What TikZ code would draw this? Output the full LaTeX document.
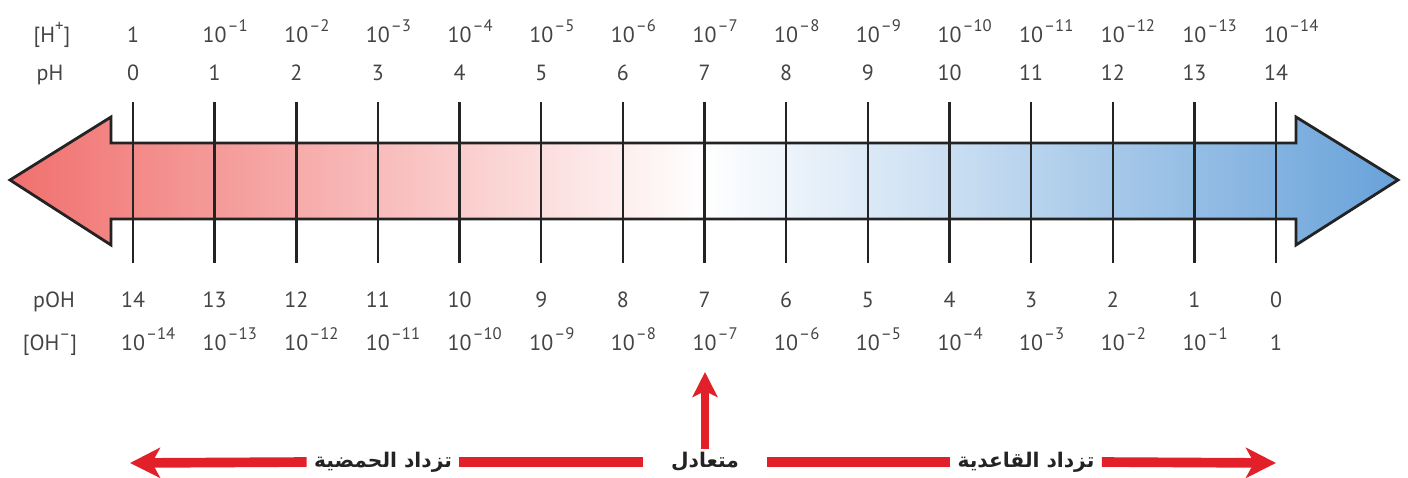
\documentclass[tikz,border=0pt]{standalone}
\usepackage{fontspec}
\setmainfont{PT Sans}
\newfontfamily\arabicfont[Script=Arabic]{DejaVu Sans}
\TeXXeTstate=1
\usetikzlibrary{arrows.meta,positioning}
\definecolor{ink}{RGB}{35,35,35}
\definecolor{acidred}{RGB}{240,112,110}
\definecolor{basblue}{RGB}{104,162,218}
\definecolor{signred}{RGB}{226,32,42}
\tikzset{
  lbl/.style={font=\fontsize{12.5}{14}\selectfont,text=ink!85,inner sep=0pt,anchor=base},
  num/.style={font=\fontsize{12.5}{14}\selectfont,text=ink!85,inner sep=0pt,anchor=base},
  band/.style={draw=ink,line width=1.6pt,line join=miter,
    left color=acidred,right color=basblue,middle color=white},
  tick/.style={draw=ink,line width=1.4pt},
  arab/.style={font=\arabicfont\bfseries\fontsize{11.5}{13}\selectfont,text=ink,inner ysep=2pt},
  redbar/.style={draw=signred,line width=5.5pt},
  redarr/.style={draw=signred,line width=5.5pt,-{Stealth[length=6mm,width=6mm,inset=1.6mm]}},
  uparr/.style={draw=signred,line width=5pt,-{Stealth[length=5mm,width=5mm,inset=1.2mm]}},
}
\newcommand{\tenpow}[1]{10\rlap{\kern0.6pt\raisebox{0.5em}{\fontsize{9.5}{10}\selectfont --#1}}}
\begin{document}
\begin{tikzpicture}[x=0.02cm,y=-0.02cm]
  \useasboundingbox (0,0) rectangle (1408,477);
  % the double arrow band
  \path[band] (10,180) -- (111,117) -- (111,143) -- (1296,143) -- (1296,117)
    -- (1398,180) -- (1296,245) -- (1296,219) -- (111,219) -- (111,245) -- cycle;
  % row captions
  \node[lbl] (capH)  at (52,42)  {[H\raisebox{0.5em}{\fontsize{9.5}{10}\selectfont +}]};
  \node[lbl] (capPH) at (50,80)  {pH};
  \node[lbl] (capPO) at (54,307) {pOH};
  \node[lbl] (capOH) at (50,350) {[OH\raisebox{0.5em}{\fontsize{9.5}{10}\selectfont --}]};
  % ticks and scale values
  \foreach \i in {0,...,14}{
    \pgfmathsetmacro\xx{133+81.65*\i}
    \pgfmathtruncatemacro\j{14-\i}
    \coordinate (t\i) at (\xx,102);
    \coordinate (b\i) at (\xx,263);
    \draw[tick] (t\i) -- (b\i);
    \node[num] (h\i) at (\xx,42) {\ifnum\i=0 1\else\tenpow{\i}\fi};
    \node[num] (p\i) at (\xx,80) {\i};
    \node[num] (q\i) at (\xx,307) {\j};
    \node[num] (o\i) at (\xx,350) {\ifnum\j=0 1\else\tenpow{\j}\fi};
  }
  % neutral / acidity / basicity signs
  \node[arab,inner xsep=16pt] (neut) at (705,462) {\beginR متعادل\endR};
  \node[arab,inner xsep=4pt] (acid) at (383,462) {\beginR تزداد الحمضية\endR};
  \node[arab,inner xsep=4pt] (base) at (1026,462) {\beginR تزداد القاعدية\endR};
  \coordinate (uptip) at (705,372);
  \coordinate (acidtip) at (130,463);
  \coordinate (basetip) at (1276,463);
  \draw[uparr] (neut.north) -- (uptip);
  \draw[redbar] (neut.west) -- (acid.east);
  \draw[redarr] (acid.west) -- (acidtip);
  \draw[redbar] (neut.east) -- (base.west);
  \draw[redarr] (base.east) -- (basetip);
\end{tikzpicture}
\end{document}
